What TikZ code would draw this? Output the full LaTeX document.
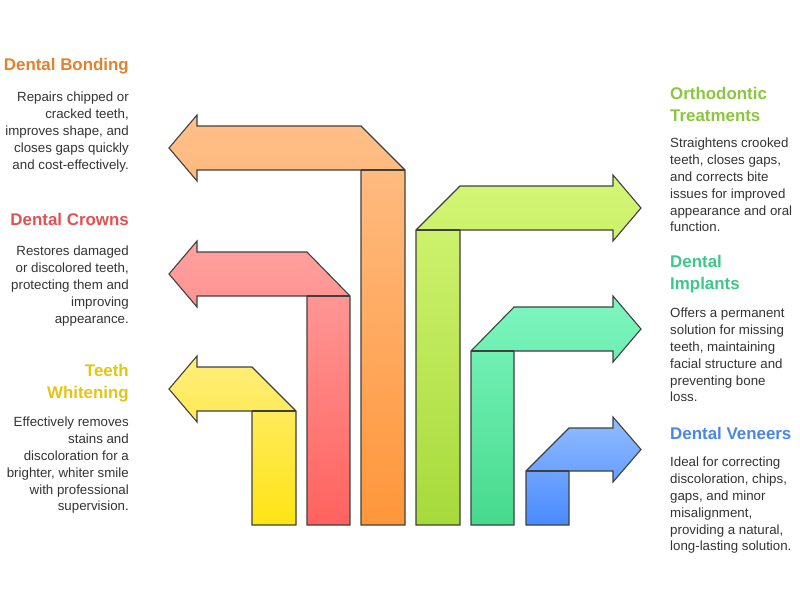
\documentclass[tikz,border=0pt]{standalone}
\usepackage{fontspec}
\setmainfont{Liberation Sans}
\begin{document}
\begin{tikzpicture}[x=1pt,y=-1pt,
  arr/.style={draw=black!75,line width=1.1pt,line join=miter},
  ttl/.style={font=\fontsize{16.9}{22}\selectfont\bfseries,inner sep=0pt},
  bodyL/.style={font=\fontsize{13.3}{16.8}\selectfont,text=black!80,inner sep=0pt,align=right,anchor=north east},
  bodyR/.style={font=\fontsize{13.3}{16.8}\selectfont,text=black!80,inner sep=0pt,align=left,anchor=north west},
  ttlL/.style={ttl,align=right,anchor=east},
  ttlR/.style={ttl,align=left,anchor=west}]
\definecolor{cO}{HTML}{E0822E}\definecolor{cR}{HTML}{E05252}\definecolor{cY}{HTML}{E3C514}
\definecolor{cG}{HTML}{8CC63F}\definecolor{cT}{HTML}{3CC88A}\definecolor{cB}{HTML}{4A86E8}
\useasboundingbox (0,0) rectangle (800,600);
% orange
\path[arr,top color={rgb,255:red,255;green,192;blue,138},bottom color={rgb,255:red,255;green,150;blue,58}]
 (361,525)--(361,170)--(197,170)--(197,181)--(169,148)--(197,115)--(197,126)--(361,126)--(405,170)--(405,525)--cycle;
\draw[arr] (361,170)--(405,170);
% red
\path[arr,top color={rgb,255:red,255;green,162;blue,160},bottom color={rgb,255:red,255;green,98;blue,94}]
 (307,525)--(307,296)--(197,296)--(197,307)--(169,274)--(197,241)--(197,252)--(307,252)--(350,296)--(350,525)--cycle;
\draw[arr] (307,296)--(350,296);
% yellow
\path[arr,top color={rgb,255:red,255;green,238;blue,125},bottom color={rgb,255:red,255;green,228;blue,20}]
 (252,525)--(252,411)--(197,411)--(197,422)--(169,389)--(197,356)--(197,367)--(252,367)--(296,411)--(296,525)--cycle;
\draw[arr] (252,411)--(296,411);
% green
\path[arr,top color={rgb,255:red,212;green,246;blue,118},bottom color={rgb,255:red,166;green,218;blue,58}]
 (416,525)--(416,230)--(460,186)--(613,186)--(613,175)--(641,208)--(613,241)--(613,230)--(460,230)--(460,525)--cycle;
\draw[arr] (416,230)--(460,230);
% teal
\path[arr,top color={rgb,255:red,126;green,246;blue,192},bottom color={rgb,255:red,70;green,218;blue,140}]
 (471,525)--(471,351)--(514,307)--(613,307)--(613,296)--(641,329)--(613,362)--(613,351)--(514,351)--(514,525)--cycle;
\draw[arr] (471,351)--(514,351);
% blue
\path[arr,top color={rgb,255:red,145;green,188;blue,255},bottom color={rgb,255:red,74;green,138;blue,255}]
 (526,525)--(526,471)--(569,428)--(613,428)--(613,417)--(641,449.5)--(613,482)--(613,471)--(569,471)--(569,525)--cycle;
\draw[arr] (526,471)--(569,471);
% left texts
\node[ttlL,text=cO] (t1) at (129,66) {Dental Bonding};
\node[bodyL] (b1) at (129,92) {Repairs chipped or\\cracked teeth,\\improves shape, and\\closes gaps quickly\\and cost-effectively.};
\node[ttlL,text=cR] (t2) at (129,219) {Dental Crowns};
\node[bodyL] (b2) at (129,246) {Restores damaged\\or discolored teeth,\\protecting them and\\improving\\appearance.};
\node[ttlL,text=cY] (t3) at (129,383) {Teeth\\Whitening};
\node[bodyL] (b3) at (129,417) {Effectively removes\\stains and\\discoloration for a\\brighter, whiter smile\\with professional\\supervision.};
% right texts
\node[ttlR,text=cG] (t4) at (670,104) {Orthodontic\\Treatments};
\node[bodyR] (b4) at (670,138) {Straightens crooked\\teeth, closes gaps,\\and corrects bite\\issues for improved\\appearance and oral\\function.};
\node[ttlR,text=cT] (t5) at (670,274) {Dental\\Implants};
\node[bodyR] (b5) at (670,308) {Offers a permanent\\solution for missing\\teeth, maintaining\\facial structure and\\preventing bone\\loss.};
\node[ttlR,text=cB] (t6) at (670,433) {Dental Veneers};
\node[bodyR] (b6) at (670,457) {Ideal for correcting\\discoloration, chips,\\gaps, and minor\\misalignment,\\providing a natural,\\long-lasting solution.};
\end{tikzpicture}
\end{document}
